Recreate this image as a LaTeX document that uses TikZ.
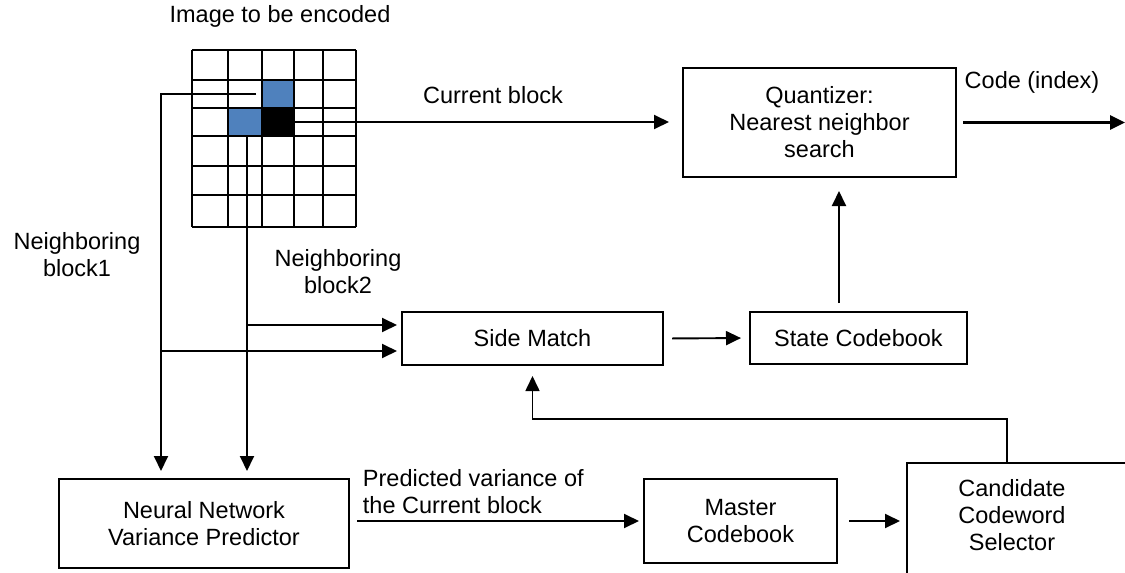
\documentclass[tikz,border=0pt]{standalone}
\usepackage{fontspec}
\setmainfont{Liberation Sans}
\usetikzlibrary{positioning,calc,arrows.meta}
\definecolor{cellblue}{RGB}{79,129,189}

\begin{document}
\begin{tikzpicture}[x=1pt,y=-1pt,>={Triangle[length=15pt,width=14pt]},
                line width=1.9pt,font=\fontsize{23.5}{27}\selectfont,
                box/.style={draw,line width=2pt,inner sep=0pt,align=center},
                cell/.style={draw,line width=1.6pt,inner sep=0pt,minimum height=28pt},
                lbl/.style={align=center,inner sep=0pt}]
\useasboundingbox (0,0) rectangle (1125,573);
\fill[white] (0,0) rectangle (1125,573);
%Image grid
    \node[lbl] (imglbl) at (280,16) {Image to be encoded};
    \foreach \x in {192,228,262,294,323,356} \draw[line width=1.6pt] (\x,50) -- (\x,227);
    \foreach \y in {50,80,108,136,166,195,227} \draw[line width=1.6pt] (192,\y) -- (356,\y);
    \node[cell,fill=cellblue,minimum width=32pt] (nbup) at (278,94) {};
    \node[cell,fill=cellblue,minimum width=34pt] (nbleft) at (245,122) {};
    \node[cell,fill=black,minimum width=32pt] (cur) at (278,122) {};
%Nodes
    \node[box,minimum width=273pt,minimum height=109pt] (quant) at (819.5,122.5) {Quantizer:\\Nearest neighbor\\search};
    \node[box,minimum width=261pt,minimum height=53pt] (side) at (532.5,338.5) {Side Match};
    \node[box,minimum width=217pt,minimum height=52pt] (state) at (858.5,338) {State Codebook};
    \node[box,minimum width=290pt,minimum height=89pt] (nn) at (204,523.5) {Neural Network\\Variance Predictor};
    \node[box,minimum width=193pt,minimum height=84pt] (master) at (740.5,521) {Master\\Codebook};
    \node[box,minimum width=250pt,minimum height=140pt,anchor=north west] (cand) at (906,462) {};
    \node[lbl] (candlbl) at (1012,515) {Candidate\\Codeword\\Selector};
%Labels
    \node[lbl] (curlbl) at (493,95) {Current block};
    \node[lbl] (codelbl) at (1032,82) {Code (index)};
    \node[lbl] (nb1lbl) at (77,254.5) {Neighboring\\block1};
    \node[lbl] (nb2lbl) at (338,271.5) {Neighboring\\block2};
    \node[lbl,align=left,anchor=west] (predlbl) at (362,491.5) {Predicted variance of\\the Current block};
%Coordinates
    \coordinate (n1) at (161,94);
    \coordinate (n2) at (247,136);
    \coordinate (up) at (839,0);
    \coordinate (fb) at (1007,419);
    \coordinate (out) at (1125,122.5);

    \draw[->,shorten >=7pt] ([xshift=-5pt]nbup.west) -- (n1) -- (n1 |- nn.north);
    \draw[->,shorten >=7pt] (n2) -- (n2 |- nn.north);
    \draw[->,shorten >=4pt] ($(n2 |- side.west)+(0,-13.5)$) -- ($(side.west)+(0,-13.5)$);
    \draw[->,shorten >=4pt] ($(n1 |- side.west)+(0,12.5)$) -- ($(side.west)+(0,12.5)$);
    \draw[->,shorten >=13pt] (cur.east) -- (cur.east -| quant.west);
    \draw[->,line width=3pt,shorten <=6pt] (quant.east) -- (out);
    \draw[->,shorten <=8pt,shorten >=8pt] (side.east) -- (state.west);
    \draw[->,shorten <=8pt,shorten >=13pt] (up |- state.north) -- (up |- quant.south);
    \draw[->,shorten <=7pt,shorten >=4pt] (nn.east |- master.west) -- (master.west);
    \draw[->,shorten <=11pt,shorten >=6pt] (master.east) -- (master.east -| cand.west);
    \draw[->,line width=1.6pt,shorten >=10pt] (fb |- cand.north) -- (fb) -| (side.south);
\end{tikzpicture}
\end{document}
